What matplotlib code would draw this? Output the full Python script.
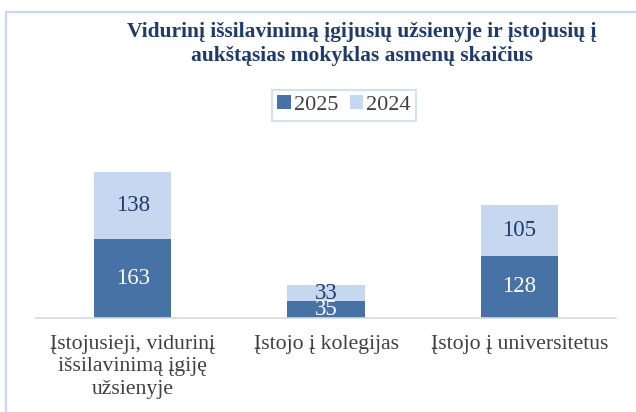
import matplotlib.pyplot as plt
from matplotlib.patches import Rectangle

categories = ['Įstojusieji, vidurinį\nišsilavinimą įgiję\nužsienyje',
              'Įstojo į kolegijas',
              'Įstojo į universitetus']
values_2025 = [163, 35, 128]
values_2024 = [138, 33, 105]

dark = '#4672A6'
light = '#C6D8F0'
navy = '#1F3B6B'

plt.rcParams['font.family'] = ['Liberation Serif', 'DejaVu Serif']

fig = plt.figure(figsize=(6.36, 4.12), dpi=100)
fig.patches.append(Rectangle((6 / 636, -0.1), 1.2, 1 - 12 / 412 + 0.1,
                             transform=fig.transFigure, fill=False,
                             edgecolor='#C9DAF0', linewidth=1.6))

ax = fig.add_axes([36 / 636, 1 - 318 / 412, 580 / 636, 350 * 0.485 / 412])
x = range(len(categories))
b1 = ax.bar(x, values_2025, width=0.4, color=dark, label='2025')
b2 = ax.bar(x, values_2024, width=0.4, bottom=values_2025, color=light, label='2024')

for rect, v in zip(b1, values_2025):
    ax.text(rect.get_x() + rect.get_width() / 2, rect.get_y() + rect.get_height() / 2,
            str(v), ha='center', va='center', color='white', fontsize=16.5)
for rect, v in zip(b2, values_2024):
    ax.text(rect.get_x() + rect.get_width() / 2, rect.get_y() + rect.get_height() / 2,
            str(v), ha='center', va='center', color=navy, fontsize=16.5)

ax.set_xlim(-0.5, 2.5)
ax.set_ylim(0, 350)
ax.set_xticks(list(x))
ax.set_xticklabels(categories, fontsize=15.7, color='#404040', linespacing=1.27)
ax.tick_params(axis='x', length=0, pad=12)
ax.set_yticks([])
for s in ['top', 'right', 'left']:
    ax.spines[s].set_visible(False)
ax.spines['bottom'].set_color('#D9D9D9')
ax.spines['bottom'].set_linewidth(1.2)

fig.text(362 / 636, 1 - 44 / 412,
         'Vidurinį išsilavinimą įgijusių užsienyje ir įstojusių į\naukštąsias mokyklas asmenų skaičius',
         ha='center', va='center', fontsize=15.5, fontweight='bold', color=navy, linespacing=1.3)

leg = fig.legend(loc='center', bbox_to_anchor=(344 / 636, 1 - 105 / 412), ncol=2,
                 fontsize=16, frameon=True, fancybox=False, handlelength=0.6,
                 handleheight=0.6, handletextpad=0.15, columnspacing=0.5,
                 borderpad=0.25, labelcolor='#404040')
leg.get_frame().set_edgecolor('#C9DAF0')
leg.get_frame().set_linewidth(1.5)

fig.savefig('out.png', dpi=100)
